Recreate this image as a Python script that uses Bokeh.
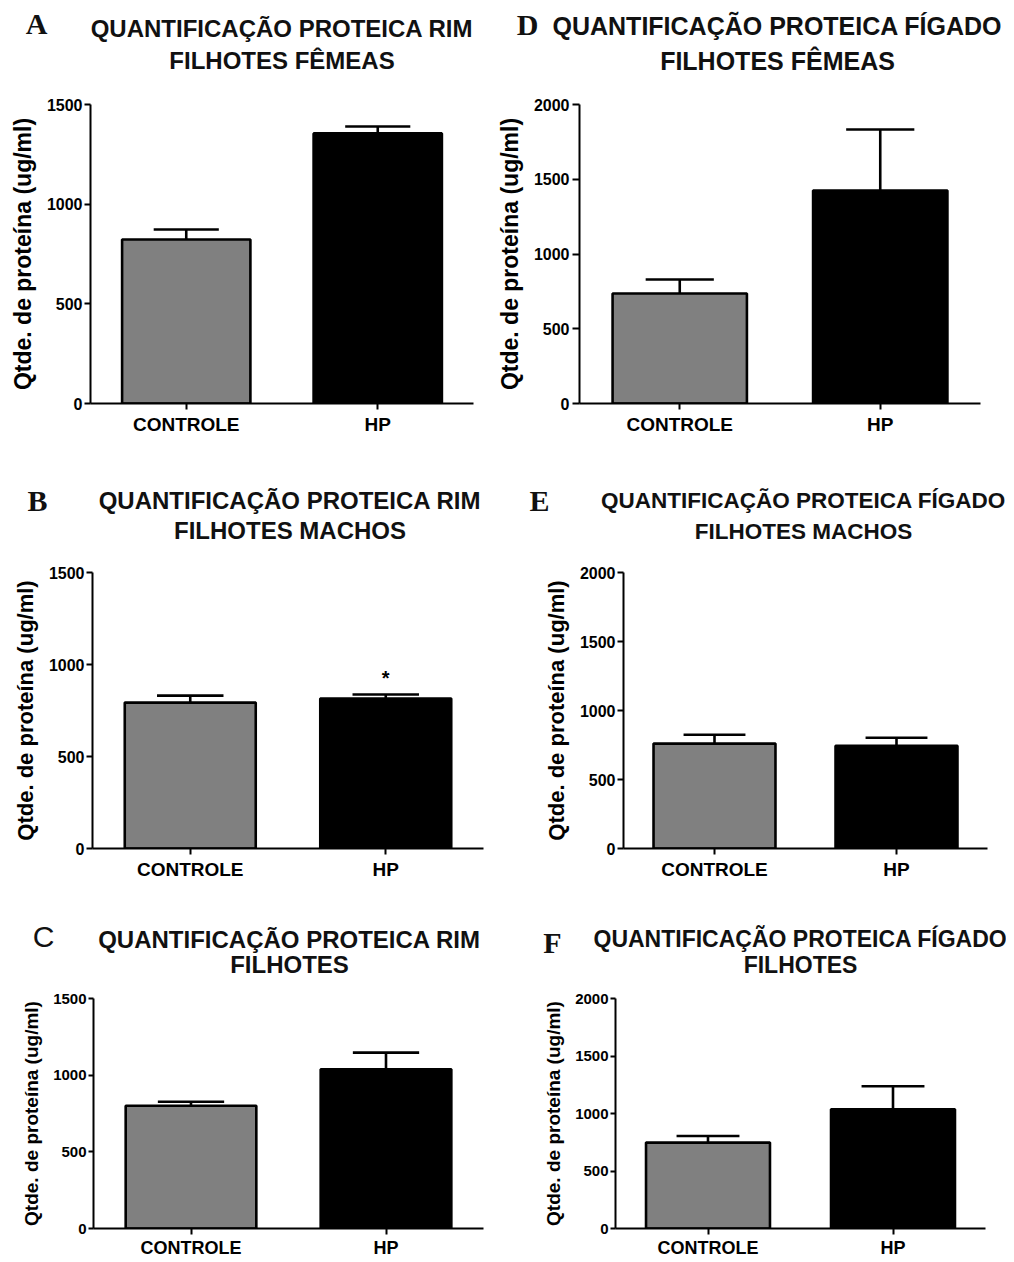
from bokeh.plotting import figure
from bokeh.models import FactorRange, Range1d, FixedTicker, Label, ColumnDataSource
from bokeh.transform import dodge
from bokeh.layouts import row, column
from bokeh.embed import file_html
from bokeh.resources import INLINE
from bokeh.core.properties import value

# ---------------- data ----------------
categories = ["CONTROLE", "HP"]
bar_colors = ["#808080", "#000000"]

rim_femeas_mean = [823, 1355]
rim_femeas_sem = [50, 35]

rim_machos_mean = [793, 815]
rim_machos_sem = [38, 22]
rim_machos_signif = ["", "*"]

rim_filhotes_mean = [801, 1038]
rim_filhotes_sem = [26, 109]

figado_femeas_mean = [736, 1425]
figado_femeas_sem = [93, 408]

figado_machos_mean = [760, 745]
figado_machos_sem = [64, 58]

figado_filhotes_mean = [747, 1037]
figado_filhotes_sem = [58, 200]

ticks_rim = [0, 500, 1000, 1500]
ticks_figado = [0, 500, 1000, 1500, 2000]

ylabel = "Qtde. de proteína (ug/ml)"
FONT = "Liberation Sans"


def make_panel(letter, title_lines, means, sems, ticks, g, signif=None):
    W, H = g["W"], g["H"]
    L, R, T, B = g["L"], g["R"], g["T"], g["B"]
    fw = W - L - R
    fh = H - T - B
    ymax = ticks[-1]
    p = figure(x_range=FactorRange(*categories, range_padding=0),
               y_range=Range1d(0, ymax),
               width=W, height=H,
               min_border_left=L, min_border_right=R,
               min_border_top=T, min_border_bottom=B,
               output_backend="svg", toolbar_location=None, tools="")
    p.outline_line_color = None
    p.xgrid.visible = False
    p.ygrid.visible = False
    p.background_fill_color = "white"
    p.border_fill_color = "white"

    src = ColumnDataSource(dict(cat=categories, mean=means,
                                upper=[m + s for m, s in zip(means, sems)],
                                color=bar_colors))
    p.vbar(x="cat", top="mean", bottom=0, width=0.67, source=src,
           fill_color="color", line_color="black", line_width=2.6)
    p.segment(x0="cat", y0="mean", x1="cat", y1="upper", source=src,
              line_color="black", line_width=2.6)
    p.segment(x0=dodge("cat", -0.17, range=p.x_range), y0="upper",
              x1=dodge("cat", 0.17, range=p.x_range), y1="upper",
              source=src, line_color="black", line_width=2.6)
    if signif is not None:
        ssrc = ColumnDataSource(dict(cat=categories, txt=signif,
                                     y=[m + s + 92 for m, s in zip(means, sems)]))
        p.text(x="cat", y="y", text="txt", source=ssrc,
               text_font=value(FONT), text_font_size="20px",
               text_font_style="bold", text_align="center",
               text_baseline="middle", text_color="black")

    # axes
    for ax in (p.xaxis, p.yaxis):
        ax.axis_line_width = 2
        ax.axis_line_color = "black"
        ax.major_tick_line_width = 2
        ax.major_tick_line_color = "black"
        ax.major_tick_in = 0
        ax.minor_tick_line_color = None
        ax.major_label_text_font = FONT
        ax.major_label_text_font_style = "bold"
        ax.major_label_text_color = "black"
    p.yaxis.ticker = FixedTicker(ticks=ticks)
    p.yaxis.major_tick_out = g["ytick"]
    p.yaxis.major_label_standoff = g["ystand"]
    p.yaxis.major_label_text_font_size = g["yfs"]
    p.yaxis.axis_label = ylabel
    p.yaxis.axis_label_text_font = FONT
    p.yaxis.axis_label_text_font_style = "bold"
    p.yaxis.axis_label_text_font_size = g["lfs"]
    p.yaxis.axis_label_text_color = "black"
    p.yaxis.axis_label_standoff = g["lstand"]
    p.xaxis.major_tick_out = 6
    p.xaxis.major_label_standoff = g["xstand"]
    p.xaxis.major_label_text_font_size = g["xfs"]

    # titles: placed in the top side panel, vertical position via the y scale
    def above_px(px):
        return ymax + px * ymax / fh

    for txt, above in zip(title_lines, g["title_y"]):
        p.add_layout(Label(x=fw / 2 + g["title_dx"], y=above_px(above),
                           x_units="screen", y_units="data", text=txt,
                           text_font=FONT, text_font_style="bold",
                           text_font_size=g["tfs"], text_align="center",
                           text_baseline="middle", text_color="#111111"),
                     "above")
    p.add_layout(Label(x=g["letter_x"], y=above_px(g["letter_y"]),
                       x_units="screen", y_units="data", text=letter,
                       text_font=g.get("letter_font", "Liberation Serif"),
                       text_font_style=g.get("letter_style", "bold"),
                       text_font_size=g.get("letter_fs", "30px"),
                       text_align="center", text_baseline="middle",
                       text_color="#111111"),
                 "above")
    return p


gA = dict(W=493, H=460, L=90, R=20, T=104, B=57, ytick=6, ystand=2, yfs="16px",
          lfs="23px", lstand=8, xstand=4, xfs="19px", tfs="24px",
          title_y=[76, 44], title_dx=0, letter_x=-54, letter_y=81)
gD = dict(W=513, H=460, L=85, R=26, T=104, B=57, ytick=7, ystand=3, yfs="16px",
          lfs="23px", lstand=8, xstand=4, xfs="19px", tfs="25px",
          title_y=[79, 44], title_dx=-3, letter_x=-52, letter_y=80)
gB = dict(W=493, H=445, L=92, R=10, T=112, B=57, ytick=6, ystand=2, yfs="16px",
          lfs="22px", lstand=8, xstand=4, xfs="19px", tfs="24px",
          title_y=[72, 42], title_dx=2, letter_x=-55, letter_y=72)
gE = dict(W=513, H=445, L=130, R=19, T=111, B=55, ytick=6, ystand=2, yfs="16px",
          lfs="22px", lstand=8, xstand=4, xfs="19px", tfs="22.5px",
          title_y=[73, 41], title_dx=-2, letter_x=-84, letter_y=73)
gC = dict(W=493, H=355, L=93, R=10, T=93, B=28, ytick=5, ystand=2, yfs="15px",
          lfs="19px", lstand=8, xstand=3, xfs="18px", tfs="24px",
          title_y=[60, 35], title_dx=1, letter_x=-50, letter_y=63,
          letter_font="Liberation Sans", letter_style="normal", letter_fs="30px")
gF = dict(W=513, H=355, L=122, R=21, T=85, B=29, ytick=5, ystand=2, yfs="15px",
          lfs="19px", lstand=8, xstand=3, xfs="18px", tfs="23px",
          title_y=[62, 35], title_dx=0, letter_x=-63, letter_y=59)

pA = make_panel("A", ["QUANTIFICAÇÃO PROTEICA RIM", "FILHOTES FÊMEAS"],
                rim_femeas_mean, rim_femeas_sem, ticks_rim, gA)
pD = make_panel("D", ["QUANTIFICAÇÃO PROTEICA FÍGADO", "FILHOTES FÊMEAS"],
                figado_femeas_mean, figado_femeas_sem, ticks_figado, gD)
pB = make_panel("B", ["QUANTIFICAÇÃO PROTEICA RIM", "FILHOTES MACHOS"],
                rim_machos_mean, rim_machos_sem, ticks_rim, gB,
                signif=rim_machos_signif)
pE = make_panel("E", ["QUANTIFICAÇÃO PROTEICA FÍGADO", "FILHOTES MACHOS"],
                figado_machos_mean, figado_machos_sem, ticks_figado, gE)
pC = make_panel("C", ["QUANTIFICAÇÃO PROTEICA RIM", "FILHOTES"],
                rim_filhotes_mean, rim_filhotes_sem, ticks_rim, gC)
pF = make_panel("F", ["QUANTIFICAÇÃO PROTEICA FÍGADO", "FILHOTES"],
                figado_filhotes_mean, figado_filhotes_sem, ticks_figado, gF)

layout = column(row(pA, pD, spacing=0), row(pB, pE, spacing=0),
                row(pC, pF, spacing=0), spacing=0)

open("out.html", "w").write(file_html(layout, INLINE))
